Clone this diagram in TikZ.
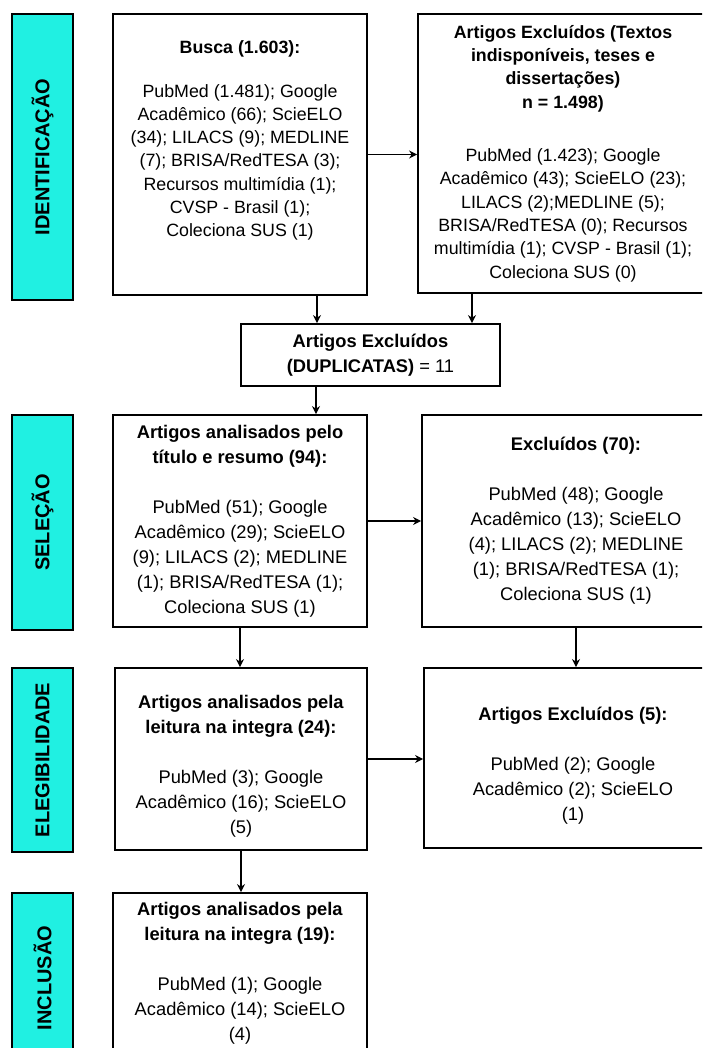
\documentclass[tikz,border=0pt]{standalone}
\usepackage{fontspec}
\setmainfont{Liberation Sans}
\usetikzlibrary{arrows.meta,positioning}
\definecolor{faseciano}{RGB}{32,240,226}

\begin{document}
\begin{tikzpicture}[x=1pt, y=-1pt,
    fase/.style={draw, line width=1.8pt, fill=faseciano, minimum height=61pt, rotate=90, inner sep=0pt, font=\fontsize{20}{24}\selectfont\bfseries},
    caixa/.style={draw, line width=1.8pt, align=center, inner sep=2pt, font=\fontsize{18.3}{25}\selectfont},
    caixatopo/.style={caixa, font=\fontsize{17.8}{23.3}\selectfont},
    seta/.style={line width=1.8pt, -{Stealth[length=8pt,width=8pt]}}]
    \useasboundingbox (0,0) rectangle (702,1048);
    \clip (0,0) rectangle (702,1048);

    % fases
    \node (idlab) [fase, minimum width=286pt] at (42.5,157) {IDENTIFICAÇÃO};
    \node (sellab) [fase, minimum width=215pt] at (42.5,522.5) {SELEÇÃO};
    \node (elilab) [fase, minimum width=184pt] at (42.5,760) {ELEGIBILIDADE};
    \node (inclab) [fase, minimum width=170pt] at (42.5,978) {INCLUSÃO};

    % identificacao
    \node (busca) [caixatopo, minimum width=254pt, minimum height=281pt] at (240,154.5) {\textbf{Busca (1.603):}\\[20pt] PubMed (1.481); Google\\ Acadêmico (66); ScieELO\\ (34); LILACS (9); MEDLINE\\ (7); BRISA/RedTESA (3);\\ Recursos multimídia (1);\\ CVSP - Brasil (1);\\ Coleciona SUS (1)\\[8pt]\mbox{}};
    \node (exc1) [caixatopo, minimum width=290pt, minimum height=279pt] at (563,153.5) {\textbf{Artigos Excluídos (Textos}\\ \textbf{indisponíveis, teses e}\\ \textbf{dissertações)}\\ \textbf{n = 1.498)}\\[30pt] PubMed (1.423); Google\\ Acadêmico (43); ScieELO (23);\\ LILACS (2);MEDLINE (5);\\ BRISA/RedTESA (0); Recursos\\ multimídia (1); CVSP - Brasil (1);\\ Coleciona SUS (0)};
    \node (dup) [caixa, minimum width=259pt, minimum height=62pt] at (370.5,355) {\textbf{Artigos Excluídos}\\ \textbf{(DUPLICATAS)} = 11};

    % selecao
    \node (sel) [caixa, minimum width=254pt, minimum height=212pt] at (240,521) {\textbf{Artigos analisados pelo}\\ \textbf{título e resumo (94):}\\[25pt] PubMed (51); Google\\ Acadêmico (29); ScieELO\\ (9); LILACS (2); MEDLINE\\ (1); BRISA/RedTESA (1);\\ Coleciona SUS (1)};
    \node (exc2) [caixa, minimum width=308pt, minimum height=212pt] at (576,521) {\textbf{Excluídos (70):}\\[25pt] PubMed (48); Google\\ Acadêmico (13); ScieELO\\ (4); LILACS (2); MEDLINE\\ (1); BRISA/RedTESA (1);\\ Coleciona SUS (1)};

    % elegibilidade
    \node (eli) [caixa, minimum width=252pt, minimum height=182pt] at (241,759) {\mbox{}\\[3pt]\textbf{Artigos analisados pela}\\ \textbf{leitura na integra (24):}\\[25pt] PubMed (3); Google\\ Acadêmico (16); ScieELO\\ (5)};
    \node (exc3) [caixa, minimum width=298pt, minimum height=180pt] at (573,758) {\mbox{}\\[3pt]\textbf{Artigos Excluídos (5):}\\[25pt] PubMed (2); Google\\ Acadêmico (2); ScieELO\\ (1)};

    % inclusao
    \node (inc) [caixa, minimum width=254pt, minimum height=167pt] at (240,976.5) {\textbf{Artigos analisados pela}\\ \textbf{leitura na integra (19):}\\[25pt] PubMed (1); Google\\ Acadêmico (14); ScieELO\\ (4)\\[-15pt]\mbox{}};

    % setas
    \draw[seta] (busca.east) -- (busca.east -| exc1.west);
    \draw[seta] ([xshift=77pt]busca.south) -- ([xshift=77pt]busca.south |- dup.north);
    \draw[seta] ([xshift=-91pt]exc1.south) -- ([xshift=-91pt]exc1.south |- dup.north);
    \draw[seta] ([xshift=-54.5pt]dup.south) -- ([xshift=-54.5pt]dup.south |- sel.north);
    \draw[seta] (sel.east) -- (sel.east -| exc2.west);
    \draw[seta] (sel.south) -- (sel.south |- eli.north);
    \draw[seta] (exc2.south) -- (exc2.south |- exc3.north);
    \draw[seta] (eli.east) -- (eli.east -| exc3.west);
    \draw[seta] (eli.south) -- (eli.south |- inc.north);
\end{tikzpicture}
\end{document}
